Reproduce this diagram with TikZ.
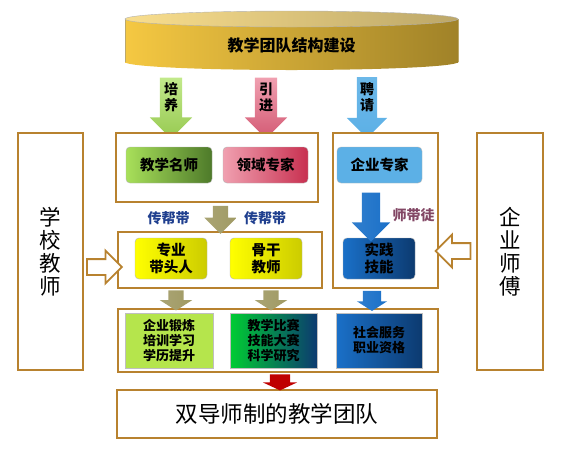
\documentclass[tikz,border=0pt]{standalone}
\usepackage{fontspec}
\newfontfamily\cjk{Noto Sans CJK SC}
\usepackage{tikz}
\usetikzlibrary{shapes.arrows, positioning, calc}
\definecolor{cadre}{RGB}{184,130,47}
\definecolor{olive}{RGB}{160,154,100}
\definecolor{bleu}{RGB}{26,112,200}
\definecolor{bleufonce}{RGB}{12,58,112}
\definecolor{vertclair}{RGB}{168,224,90}
\definecolor{vertfonce}{RGB}{78,122,42}
\definecolor{rose}{RGB}{240,160,176}
\definecolor{rouge}{RGB}{200,48,80}
\definecolor{ciel}{RGB}{92,176,230}
\definecolor{titre}{RGB}{31,63,143}
\definecolor{prune}{RGB}{130,70,100}
\definecolor{or}{RGB}{245,200,66}
\definecolor{orfonce}{RGB}{160,130,40}

\tikzset{
  cadre/.style={draw=cadre, line width=1.8pt, fill=white, inner sep=0pt},
  bloc/.style={rounded corners=4pt, draw=gray!60, thin, inner sep=0pt, align=center,
    font=\cjk\bfseries\fontsize{14.5}{17}\selectfont},
  carre/.style={draw=gray!50, thin, inner sep=0pt, align=center,
    font=\cjk\bfseries\fontsize{13}{15}\selectfont},
  fleche/.style={single arrow, shape border rotate=270, inner sep=0pt,
    single arrow head indent=0pt, draw=none},
  creuse/.style={single arrow, inner sep=7pt, draw=cadre, line width=1.8pt,
    fill=white, single arrow head extend=8.5pt, minimum height=35pt}
}

\begin{document}
\begin{tikzpicture}[x=1pt, y=-1pt, font=\cjk\bfseries\fontsize{14}{16}\selectfont]
\useasboundingbox (0,0) rectangle (563,451);

% cylindre du haut
\shade[left color=or, right color=orfonce] (291.5,62) ellipse [x radius=166.5, y radius=8];
\shade[left color=or, right color=orfonce] (125,19) rectangle (458,62);
\draw[orfonce!70, thin] (125,19) -- (125,62) (458,19) -- (458,62);
\shade[left color=or!60!white, right color=orfonce!70!white, draw=gray!60]
  (291.5,19) ellipse [x radius=166.5, y radius=8];
\node[font=\cjk\bfseries\fontsize{16}{18}\selectfont] (cyl) at (291.5,45) {教学团队结构建设};

% fleches du haut
\node[fleche, minimum height=61pt, inner xsep=11pt, single arrow head extend=10pt,
  top color=vertclair!70!white, bottom color=vertclair!90!black] (fpei) at (171,102.5) {};
\node[fleche, minimum height=61pt, inner xsep=11pt, single arrow head extend=10pt,
  top color=rose, bottom color=rouge!80] (fyin) at (266,102.5) {};
\node[fleche, minimum height=61pt, inner xsep=10pt, single arrow head extend=10pt,
  top color=ciel!90, bottom color=ciel] (fpin) at (367,102.5) {};
\node[align=center, inner sep=0pt] at (171,97) {培\\养};
\node[align=center, inner sep=0pt] at (266,97) {引\\进};
\node[align=center, inner sep=0pt] at (367,97) {聘\\请};

% cadres
\node[cadre, minimum width=202pt, minimum height=69pt] (grpA) at (217,167.5) {};
\node[cadre, minimum width=105pt, minimum height=155pt] (grpE) at (385.5,210.5) {};
\node[cadre, minimum width=204pt, minimum height=56pt] (grpB) at (220,260) {};
\node[cadre, minimum width=320pt, minimum height=63pt] (grpC) at (278,340.5) {};
\node[cadre, minimum width=320pt, minimum height=48pt,
  font=\cjk\fontsize{22.5}{24}\selectfont] (equipe) at (277,414) {双导师制的教学团队};
\node[cadre, minimum width=65pt, minimum height=237pt, align=center,
  font=\cjk\fontsize{21.5}{23}\selectfont] (ecole) at (50.5,251.5) {学\\校\\教\\师};
\node[cadre, minimum width=66pt, minimum height=237pt, align=center,
  font=\cjk\fontsize{21.5}{23}\selectfont] (maitre) at (510,251.5) {企\\业\\师\\傅};

% blocs
\node[bloc, minimum width=86pt, minimum height=36pt, left color=vertclair,
  right color=vertfonce] (mingshi) at (169,165) {教学名师};
\node[bloc, minimum width=85pt, minimum height=36pt, left color=rose,
  right color=rouge] (zhuanjia) at (265.5,165) {领域专家};
\node[bloc, minimum width=85pt, minimum height=36pt, fill=ciel] (qiye) at (379.5,165) {企业专家};
\node[bloc, minimum width=72pt, minimum height=41pt, left color=yellow,
  right color=yellow!80!black] (daitou) at (171,258.5) {专业\\带头人};
\node[bloc, minimum width=72pt, minimum height=41pt, left color=yellow,
  right color=yellow!80!black] (gugan) at (266,258.5) {骨干\\教师};
\node[bloc, minimum width=72pt, minimum height=41pt, left color=bleu,
  right color=bleufonce] (shijian) at (379,258.5) {实践\\技能};

\node[carre, minimum width=88pt, minimum height=55pt, fill=vertclair!85!yellow] (duanlian) at (169,340.5) {企业锻炼\\培训学习\\学历提升};
\node[carre, minimum width=87pt, minimum height=55pt, left color=green!60!teal,
  right color=bleufonce] (bisai) at (273.5,340.5) {教学比赛\\技能大赛\\科学研究};
\node[carre, minimum width=86pt, minimum height=55pt, left color=bleu,
  right color=bleufonce] (fuwu) at (379,340.5) {社会服务\\职业资格};

% fleches du milieu
\node[fleche, minimum height=28pt, inner xsep=7.5pt, single arrow head extend=8.5pt,
  left color=olive!90, right color=olive] (fchuan) at (220.5,216) {};
\node[fleche, minimum height=49pt, inner xsep=9pt, single arrow head extend=10pt,
  left color=bleu!90, right color=bleu] (ftu) at (371,212.5) {};
\node[text=titre, inner sep=0pt] at (168.5,218) {传帮带};
\node[text=titre, inner sep=0pt] at (265,218) {传帮带};
\node[text=prune, inner sep=0pt] at (413.5,215) {师带徒};

% fleches du bas
\node[fleche, minimum height=20pt, inner xsep=7.5pt, single arrow head extend=8.5pt,
  single arrow tip angle=115, left color=olive!90, right color=olive] (fa) at (176,298) {};
\node[fleche, minimum height=20pt, inner xsep=7.5pt, single arrow head extend=8.5pt,
  single arrow tip angle=115, left color=olive!90, right color=olive] (fb) at (271,298) {};
\node[fleche, minimum height=20pt, inner xsep=9pt, single arrow head extend=6pt,
  single arrow tip angle=115, left color=bleu!90, right color=bleu] (fc) at (372,298) {};
\node[fleche, minimum height=16pt, inner xsep=10pt, single arrow head extend=7pt,
  single arrow tip angle=130, fill=red!75!black] (fd) at (280,380) {};

% fleches creuses
\node[creuse] (fg) at (100.5,267) {};
\node[creuse, shape border rotate=180] (fdr) at (457,251) {};
\end{tikzpicture}
\end{document}
